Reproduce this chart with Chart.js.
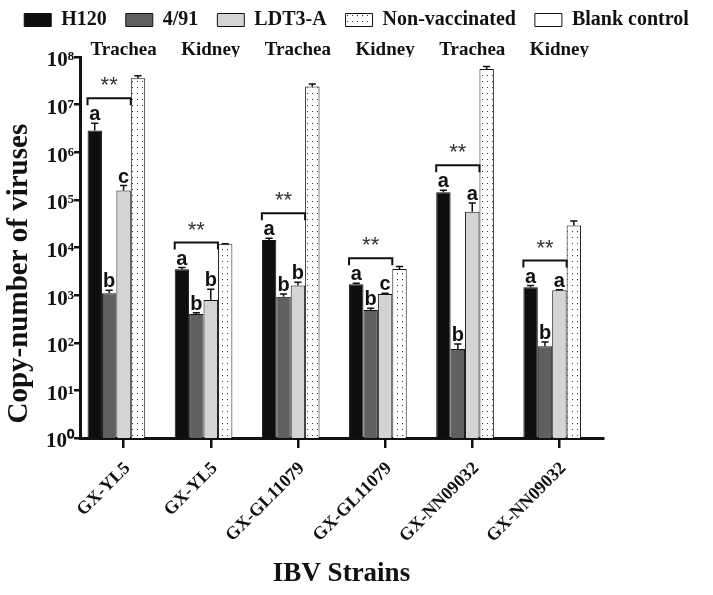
<!DOCTYPE html>
<html lang="en">
<head>
<meta charset="UTF-8">
<title>IBV copy number</title>
<script src="https://cdn.jsdelivr.net/npm/chart.js@4"></script>
<style>
  body { margin: 0; background: #fff; }
  canvas { display: block; }
</style>
</head>
<body>
<canvas id="grafico" width="713" height="595"></canvas>
<script>
// categories
const strains = ['GX-YL5', 'GX-YL5', 'GX-GL11079', 'GX-GL11079', 'GX-NN09032', 'GX-NN09032'];
const tissues = ['Trachea', 'Kidney', 'Trachea', 'Kidney', 'Trachea', 'Kidney'];
const seriesNames = ['H120', '4/91', 'LDT3-A', 'Non-vaccinated', 'Blank control'];

// means (copies)
const h120 = [2.86e6, 3.5e3, 1.44e4, 1.7e3, 1.45e5, 1.46e3];
const v491 = [1.1e3, 403, 930, 489, 74, 84];
const ldt3a = [1.57e5, 794, 1.6e3, 1.06e3, 5.6e4, 1.26e3];
const nonVacc = [3.6e7, 1.17e4, 2.4e7, 3.55e3, 5.6e7, 2.9e4];
const blank = [null, null, null, null, null, null];

// upper error (SD)
const h120Err = [1.2e6, 300, 1300, 80, 1.4e4, 130];
const v491Err = [160, 22, 120, 41, 20, 20];
const ldt3aErr = [4.3e4, 540, 270, 40, 3.0e4, 40];
const nonVaccErr = [4.3e6, 300, 3e6, 450, 7e6, 7e3];

// significance letters and brackets
const h120Letters = ['a', 'a', 'a', 'a', 'a', 'a'];
const v491Letters = ['b', 'b', 'b', 'b', 'b', 'b'];
const ldt3aLetters = ['c', 'b', 'b', 'c', 'a', 'a'];
const bracketStars = ['**', '**', '**', '**', '**', '**'];

const yTicks = [1, 10, 100, 1e3, 1e4, 1e5, 1e6, 1e7, 1e8];
const sup = ['\u2070', '\u00b9', '\u00b2', '\u00b3', '\u2074', '\u2075', '\u2076', '\u2077', '\u2078', '\u2079'];

Chart.defaults.font.family = '"Liberation Serif", "Times New Roman", serif';
Chart.defaults.color = '#111';

// pontilhado da serie nao vacinada
const pontos = (() => {
  const c = document.createElement('canvas');
  c.width = 5; c.height = 6;
  const g = c.getContext('2d');
  g.fillStyle = '#ffffff';
  g.fillRect(0, 0, 5, 6);
  g.fillStyle = '#333333';
  g.fillRect(2, 3, 1, 1);
  return g.createPattern(c, 'repeat');
})();

const marcas = {
  id: 'marcas',
  afterDatasetsDraw(chart) {
    const ctx = chart.ctx;
    const y = chart.scales.y;
    const errs = [h120Err, v491Err, ldt3aErr, nonVaccErr];
    const letras = [h120Letters, v491Letters, ldt3aLetters];
    const topos = [];
    ctx.save();
    ctx.strokeStyle = '#111';
    ctx.fillStyle = '#111';
    ctx.lineWidth = 1.5;
    ctx.textAlign = 'center';
    ctx.textBaseline = 'alphabetic';
    ctx.font = 'bold 20px "Liberation Sans", Arial, sans-serif';
    for (let d = 0; d < errs.length; d++) {
      const meta = chart.getDatasetMeta(d);
      topos[d] = [];
      meta.data.forEach((bar, i) => {
        const v = chart.data.datasets[d].data[i];
        const top = y.getPixelForValue(v + errs[d][i]);
        topos[d][i] = top;
        const half = bar.width * 0.25;
        ctx.beginPath();
        ctx.moveTo(bar.x, bar.y);
        ctx.lineTo(bar.x, top);
        ctx.moveTo(bar.x - half, top);
        ctx.lineTo(bar.x + half, top);
        ctx.stroke();
        if (letras[d]) ctx.fillText(letras[d][i], bar.x, top - 3);
      });
    }
    // colchetes com **
    ctx.lineWidth = 2;
    for (let i = 0; i < strains.length; i++) {
      const b0 = chart.getDatasetMeta(0).data[i];
      const b2 = chart.getDatasetMeta(2).data[i];
      const by = Math.min(topos[0][i], topos[1][i], topos[2][i]) - 25;
      const left = b0.x - b0.width / 2;
      const right = b2.x + b2.width / 2;
      ctx.beginPath();
      ctx.moveTo(left, by + 7);
      ctx.lineTo(left, by);
      ctx.lineTo(right, by);
      ctx.lineTo(right, by + 7);
      ctx.stroke();
      ctx.save();
      ctx.fillStyle = '#333';
      ctx.font = '22px "Liberation Sans", Arial, sans-serif';
      ctx.fillText(bracketStars[i], (left + right) / 2, by - 6);
      ctx.restore();
    }
    ctx.restore();
  }
};

const cores = ['#0e0e0e', '#606060', '#d4d4d4', pontos, '#ffffff'];
const series = [h120, v491, ldt3a, nonVacc, blank];

new Chart(document.getElementById('grafico'), {
  type: 'bar',
  data: {
    labels: strains,
    datasets: series.map((s, k) => ({
      label: seriesNames[k],
      data: s,
      backgroundColor: cores[k],
      borderColor: '#111',
      borderWidth: 1,
      barPercentage: 1,
      categoryPercentage: 0.827
    }))
  },
  options: {
    responsive: false,
    animation: false,
    layout: { padding: { top: -9 } },
    plugins: {
      legend: {
        position: 'top',
        labels: {
          boxWidth: 27,
          boxHeight: 13,
          padding: 19,
          color: '#111',
          font: { size: 20, weight: 'bold' }
        }
      },
      tooltip: { enabled: false }
    },
    scales: {
      x: {
        offset: true,
        grid: { display: true, drawOnChartArea: false, offset: false, tickLength: 10, lineWidth: 2.5, color: '#111' },
        border: { display: true, color: '#111', width: 3 },
        ticks: { minRotation: 45, maxRotation: 45, autoSkip: false, padding: 10, labelOffset: 4, color: '#111', font: { size: 18, weight: 'bold' } },
        title: { display: true, text: 'IBV Strains', color: '#111', font: { size: 27, weight: 'bold' }, padding: { top: 0, bottom: 5 } },
        afterFit(s) { s.height = 157; }
      },
      x2: {
        type: 'category',
        labels: tissues,
        position: 'top',
        offset: true,
        grid: { display: false },
        border: { display: false },
        ticks: { padding: -12, maxRotation: 0, autoSkip: false, color: '#111', font: { size: 19, weight: 'bold' } },
        afterFit(s) { s.height = 17; }
      },
      y: {
        type: 'logarithmic',
        min: 1,
        max: 1e8,
        grid: { display: true, drawOnChartArea: false, tickLength: 6, lineWidth: 2.5, color: '#111' },
        border: { display: true, color: '#111', width: 3 },
        afterBuildTicks(s) { s.ticks = yTicks.map(v => ({ value: v })); },
        ticks: {
          autoSkip: false,
          padding: 0,
          labelOffset: 4,
          color: '#111',
          font: { size: 21, weight: 'bold' },
          callback: v => '10' + sup[Math.round(Math.log10(v))]
        },
        title: { display: true, text: '\u2002Copy-number of viruses', align: 'start', color: '#111', font: { size: 29, weight: 'bold' }, padding: { top: 2, bottom: 0 } },
        afterFit(s) { s.width = 80; }
      },
      y2: {
        type: 'linear',
        position: 'right',
        grid: { display: false },
        border: { display: false },
        ticks: { display: false },
        afterFit(s) { s.width = 110; }
      }
    }
  },
  plugins: [marcas]
});
</script>
</body>
</html>
